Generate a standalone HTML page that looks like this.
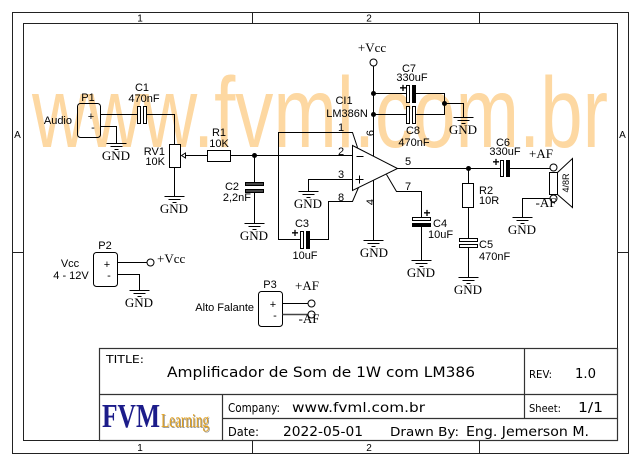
<!DOCTYPE html>
<html><head><meta charset="utf-8">
<style>
html,body{margin:0;padding:0;background:#fff;}
svg{display:block}
.s{font-family:"Liberation Sans",Arial,sans-serif;font-size:11px;fill:#000}
.g{font-family:"Liberation Serif","Times New Roman",serif;font-size:13px;fill:#000}
.t{font-family:"DejaVu Sans",Verdana,sans-serif;fill:#000}
.f{font-family:"Liberation Sans",Arial,sans-serif;font-size:10px;fill:#000}
.pl{font-family:"Liberation Sans",Arial,sans-serif;font-size:12px;font-weight:bold;fill:#000}
</style></head><body>
<svg width="640" height="466" viewBox="0 0 640 466" xmlns="http://www.w3.org/2000/svg">
<rect width="640" height="466" fill="#fff"/>
<!-- watermark -->
<text x="32" y="147" font-family="Liberation Sans, Arial, sans-serif" font-size="100" fill="#FDD8A2" textLength="576" lengthAdjust="spacingAndGlyphs">www.fvml.com.br</text>

<!-- frame -->
<g transform="translate(0.5,0.5)" stroke="#222" stroke-width="1" fill="none">
  <rect x="12" y="12" width="616" height="441"/>
  <rect x="23" y="23" width="594" height="417"/>
  <line x1="252" y1="12" x2="252" y2="23"/>
  <line x1="479" y1="12" x2="479" y2="23"/>
  <line x1="252" y1="440" x2="252" y2="453"/>
  <line x1="479" y1="440" x2="479" y2="453"/>
  <line x1="12" y1="252" x2="23" y2="252"/>
  <line x1="617" y1="252" x2="628" y2="252"/>
</g>
<text class="f" x="140" y="21.5" text-anchor="middle">1</text>
<text class="f" x="369" y="21.5" text-anchor="middle">2</text>
<text class="f" x="140" y="451" text-anchor="middle">1</text>
<text class="f" x="369" y="451" text-anchor="middle">2</text>
<text class="f" x="17.5" y="138" text-anchor="middle">A</text>
<text class="f" x="622.5" y="138" text-anchor="middle">A</text>

<!-- title block -->
<g transform="translate(0.5,0.5)" stroke="#333" stroke-width="1.2" fill="none">
  <rect x="99" y="348" width="518" height="92"/>
  <line x1="99" y1="394" x2="617" y2="394"/>
  <line x1="524" y1="348" x2="524" y2="418"/>
  <line x1="222" y1="418" x2="617" y2="418"/>
  <line x1="222" y1="394" x2="222" y2="440"/>
</g>
<text class="t" x="106" y="363" font-size="11" textLength="38" lengthAdjust="spacingAndGlyphs">TITLE:</text>
<text class="t" x="167" y="377" font-size="14" textLength="308" lengthAdjust="spacingAndGlyphs">Amplificador de Som de 1W com LM386</text>
<text class="t" x="529" y="378" font-size="11" textLength="23" lengthAdjust="spacingAndGlyphs">REV:</text>
<text class="t" x="575" y="378" font-size="13" textLength="21" lengthAdjust="spacingAndGlyphs">1.0</text>
<text class="t" x="228" y="412" font-size="12" textLength="52" lengthAdjust="spacingAndGlyphs">Company:</text>
<text class="t" x="292" y="412" font-size="13" textLength="133" lengthAdjust="spacingAndGlyphs">www.fvml.com.br</text>
<text class="t" x="529" y="412" font-size="11" textLength="32" lengthAdjust="spacingAndGlyphs">Sheet:</text>
<text class="t" x="578" y="412" font-size="13" textLength="25" lengthAdjust="spacingAndGlyphs">1/1</text>
<text class="t" x="228" y="436" font-size="12" textLength="31" lengthAdjust="spacingAndGlyphs">Date:</text>
<text class="t" x="283" y="436" font-size="13" textLength="80" lengthAdjust="spacingAndGlyphs">2022-05-01</text>
<text class="t" x="390" y="436" font-size="12" textLength="69" lengthAdjust="spacingAndGlyphs">Drawn By:</text>
<text class="t" x="466" y="436" font-size="13.5" textLength="123" lengthAdjust="spacingAndGlyphs">Eng. Jemerson M.</text>
<!-- logo -->
<text x="102" y="427" font-family="Liberation Serif, Times New Roman, serif" font-weight="bold" font-size="34" fill="#1C1C8A" textLength="58" lengthAdjust="spacingAndGlyphs">FVM</text>
<text x="162" y="428" font-family="Liberation Serif, Times New Roman, serif" font-size="20" fill="#999" textLength="48" lengthAdjust="spacingAndGlyphs">Learning</text>
<text x="161" y="427" font-family="Liberation Serif, Times New Roman, serif" font-size="20" fill="#E0A020" textLength="48" lengthAdjust="spacingAndGlyphs">Learning</text>

<!-- schematic lines -->
<g transform="translate(0.5,0.5)" stroke="#000" stroke-width="1" fill="none">
  <!-- P1 -->
  <rect x="77" y="103" width="23" height="34" rx="3"/>
  <path d="M100 114 H137"/>
  <rect x="137" y="106" width="3" height="17" fill="#fff"/>
  <rect x="143" y="106" width="3" height="17" fill="#fff"/>
  <path d="M146 114 H174 V144"/>
  <path d="M100 126 H116 V143"/>
  <!-- RV1 -->
  <rect x="169" y="144" width="11" height="23" fill="#fff"/>
  <path d="M174 167 V196"/>
  <polygon points="181,155 185,152.5 185,157.5" fill="#fff"/>
  <path d="M185 155 H207"/>
  <!-- R1 -->
  <rect x="207" y="150" width="23" height="11" fill="#fff"/>
  <path d="M230 155 H352"/>
  <!-- C2 -->
  <path d="M254 155 V182"/>
  <rect x="245" y="182" width="18" height="3" fill="#444"/>
  <rect x="245" y="189" width="18" height="3" fill="#444"/>
  <path d="M254 192 V223"/>
  <!-- op amp -->
  <polygon points="352,145 352,190 397,168" fill="#fff"/>
  <path d="M356 156 H363"/>
  <path d="M355 179 H363 M359 175 V183"/>
  <path d="M352 179 H308 V191"/>
  <path d="M357 147 L352 132 H278 V239 H300"/>
  <rect x="300" y="231" width="3" height="17" fill="#fff"/>
  <rect x="306" y="231" width="3" height="17" fill="#000"/>
  <path d="M309 239 H328 V201 H352 L358 187"/>
  <!-- Vcc -->
  <path d="M373 156 V66"/>
  <circle cx="373" cy="62" r="3.5" fill="#fff"/>
  <path d="M373 93 H406"/>
  <rect x="406" y="85" width="3" height="17" fill="#fff"/>
  <rect x="412" y="85" width="3" height="17" fill="#000"/>
  <path d="M415 93 H444 V114 H415"/>
  <rect x="406" y="106" width="3" height="17" fill="#fff"/>
  <rect x="412" y="106" width="3" height="17" fill="#fff"/>
  <path d="M406 114 H373"/>
  <path d="M444 103 H463 V117"/>
  <!-- pin 4 -->
  <path d="M373 180 V240"/>
  <!-- pin 7 / C4 -->
  <path d="M386 174 L396 191 H421 V217"/>
  <rect x="412" y="217" width="18" height="3" fill="#fff"/>
  <rect x="412" y="223" width="18" height="3" fill="#000"/>
  <path d="M421 226 V260"/>
  <!-- pin 5 -->
  <path d="M397 168 H500"/>
  <rect x="500" y="160" width="3" height="16" fill="#fff"/>
  <rect x="506" y="160" width="3" height="16" fill="#000"/>
  <path d="M509 168 H549.5"/>
  <!-- R2 / C5 -->
  <path d="M468 168 V183"/>
  <rect x="462" y="183" width="11" height="24" fill="#fff"/>
  <path d="M468 207 V238"/>
  <rect x="459" y="238" width="18" height="3" fill="#fff"/>
  <rect x="459" y="244" width="18" height="3" fill="#fff"/>
  <path d="M468 247 V277"/>
  <!-- speaker -->
  <rect x="549" y="172" width="8" height="22" fill="#fff"/>
  <polygon points="557,172 572,158 572,207 557,194"/>
  <circle cx="553" cy="167" r="3.5" fill="#fff"/>
  <circle cx="553" cy="198" r="3.5" fill="#fff"/>
  <path d="M549.5 198 H522 V217"/>
  <!-- P2 -->
  <rect x="93" y="252" width="24" height="34" rx="3"/>
  <path d="M117 262 H146.5"/>
  <circle cx="150" cy="262" r="3.5" fill="#fff"/>
  <path d="M117 274 H139 V290"/>
  <!-- P3 -->
  <rect x="258" y="291" width="24" height="35" rx="3"/>
  <path d="M282 303 H307.5"/>
  <circle cx="311" cy="303" r="3.5" fill="#fff"/>
  <path d="M282 314 H307.5" stroke="#444" stroke-width="1.4"/>
  <circle cx="311" cy="314" r="3.5" fill="#fff"/>

  <!-- grounds -->
  <path d="M106 143 H126 M110 146 H122 M114 149 H118"/>
  <path d="M164 196 H184 M168 199 H180 M172 202 H176"/>
  <path d="M244 223 H264 M248 226 H260 M252 229 H256"/>
  <path d="M298 191 H318 M302 194 H314 M306 197 H310"/>
  <path d="M363 240 H383 M367 243 H379 M371 246 H375"/>
  <path d="M411 260 H431 M415 263 H427 M419 266 H423"/>
  <path d="M453 117 H473 M457 120 H469 M461 123 H465"/>
  <path d="M458 277 H478 M462 280 H474 M466 283 H470"/>
  <path d="M512 217 H532 M516 220 H528 M520 223 H524"/>
  <path d="M129 290 H149 M133 293 H145 M137 296 H141"/>
</g>
<!-- junction dots -->
<g fill="#000">
  <circle cx="254.5" cy="155.5" r="2.5"/>
  <circle cx="373.5" cy="93.5" r="2.5"/>
  <circle cx="373.5" cy="114.5" r="2.5"/>
  <circle cx="444.5" cy="103.5" r="2.5"/>
  <circle cx="468.5" cy="168.5" r="2.5"/>
</g>

<!-- GND labels -->
<text class="g" x="116" y="160" text-anchor="middle">GND</text>
<text class="g" x="174" y="213" text-anchor="middle">GND</text>
<text class="g" x="254" y="240" text-anchor="middle">GND</text>
<text class="g" x="308" y="208" text-anchor="middle">GND</text>
<text class="g" x="374" y="257" text-anchor="middle">GND</text>
<text class="g" x="421" y="277" text-anchor="middle">GND</text>
<text class="g" x="463" y="134" text-anchor="middle">GND</text>
<text class="g" x="468" y="294" text-anchor="middle">GND</text>
<text class="g" x="522" y="234" text-anchor="middle">GND</text>
<text class="g" x="139" y="307" text-anchor="middle">GND</text>

<!-- component labels -->
<text class="s" x="88" y="101" text-anchor="middle">P1</text>
<text class="s" x="72" y="124" text-anchor="end">Audio</text>
<text class="s" x="91" y="120" text-anchor="middle">+</text>
<text class="s" x="93" y="131" text-anchor="middle">-</text>
<text class="s" x="142" y="91" text-anchor="middle">C1</text>
<text class="s" x="144" y="102" text-anchor="middle">470nF</text>
<text class="s" x="165" y="155" text-anchor="end">RV1</text>
<text class="s" x="165" y="165" text-anchor="end">10K</text>
<text class="s" x="219" y="136" text-anchor="middle">R1</text>
<text class="s" x="219" y="147" text-anchor="middle">10K</text>
<text class="s" x="239" y="190" text-anchor="end">C2</text>
<text class="s" x="251" y="201" text-anchor="end">2,2nF</text>

<text class="s" x="341" y="131" text-anchor="middle">1</text>
<text class="s" x="341" y="155" text-anchor="middle">2</text>
<text class="s" x="341" y="178" text-anchor="middle">3</text>
<text class="s" x="341" y="201" text-anchor="middle">8</text>
<text class="s" x="408" y="165" text-anchor="middle">5</text>
<text class="s" x="408" y="190" text-anchor="middle">7</text>
<text class="s" x="0" y="0" text-anchor="middle" transform="translate(374,133) rotate(-90)">6</text>
<text class="s" x="0" y="0" text-anchor="middle" transform="translate(374,202) rotate(-90)">4</text>
<text class="s" x="344" y="104" text-anchor="middle">CI1</text>
<text class="s" x="347" y="117" text-anchor="middle">LM386N</text>
<text class="g" x="372" y="52" text-anchor="middle">+Vcc</text>

<text class="s" x="409" y="72" text-anchor="middle">C7</text>
<text class="s" x="412" y="81" text-anchor="middle">330uF</text>
<text class="pl" x="403" y="92" text-anchor="middle">+</text>
<text class="s" x="413" y="134" text-anchor="middle">C8</text>
<text class="s" x="414" y="146" text-anchor="middle">470nF</text>

<text class="s" x="503" y="146" text-anchor="middle">C6</text>
<text class="s" x="505" y="155" text-anchor="middle">330uF</text>
<text class="pl" x="496" y="166" text-anchor="middle">+</text>
<text class="g" x="541" y="158" text-anchor="middle">+AF</text>
<text class="g" x="546" y="207" text-anchor="middle">-AF</text>
<text x="0" y="0" font-family="Liberation Sans, Arial, sans-serif" font-size="9" text-anchor="middle" transform="translate(569,183) rotate(-90)">4/8R</text>

<text class="s" x="479" y="194">R2</text>
<text class="s" x="479" y="204">10R</text>
<text class="s" x="479" y="248">C5</text>
<text class="s" x="479" y="260">470nF</text>
<text class="s" x="433" y="227">C4</text>
<text class="s" x="428" y="238">10uF</text>
<text class="pl" x="427" y="217" text-anchor="middle">+</text>

<text class="s" x="302" y="227" text-anchor="middle">C3</text>
<text class="s" x="305" y="259" text-anchor="middle">10uF</text>
<text class="pl" x="295" y="237" text-anchor="middle">+</text>

<text class="s" x="105" y="249" text-anchor="middle">P2</text>
<text class="s" x="107" y="268" text-anchor="middle">+</text>
<text class="s" x="109" y="279" text-anchor="middle">-</text>
<text class="s" x="70" y="267" text-anchor="middle">Vcc</text>
<text class="s" x="71" y="279" text-anchor="middle">4 - 12V</text>
<text class="g" x="157" y="263">+Vcc</text>

<text class="s" x="270" y="288" text-anchor="middle">P3</text>
<text class="s" x="273" y="308" text-anchor="middle">+</text>
<text class="s" x="275" y="319" text-anchor="middle">-</text>
<text class="s" x="254" y="311" text-anchor="end">Alto Falante</text>
<text class="g" x="307" y="290" text-anchor="middle">+AF</text>
<text class="g" x="309" y="323" text-anchor="middle">-AF</text>
</svg>
</body></html>
